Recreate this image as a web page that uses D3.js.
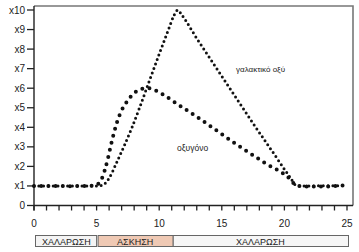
<!DOCTYPE html>
<html><head><meta charset="utf-8">
<script src="https://cdn.jsdelivr.net/npm/d3@7"></script>
<style>
html,body{margin:0;padding:0;background:#fff;}
svg{display:block;}
text{font-family:"Liberation Sans Narrow","Liberation Sans",Arial,sans-serif;}
</style></head><body>
<svg id="c" width="359" height="252"></svg>
<script>
// ---- data ----
const xTicks = [0,5,10,15,20,25];
const xMinor = d3.range(0,26,1);
const yTicks = [0,1,2,3,4,5,6,7,8,9,10];
const yTickLabels = ["0","x1","x2","x3","x4","x5","x6","x7","x8","x9","x10"];
const oxygenLabel = "οξυγόνο";
const lacticLabel = "γαλακτικό οξύ";
const oxygen = [[0,1.0],[1,1.0],[2,1.0],[3,0.99],[4,1.0],[4.7,1.02],[5.1,1.1],[5.4,1.35],[5.65,1.8],[5.9,2.4],[6.15,3.1],[6.4,3.75],[6.65,4.3],[6.95,4.8],[7.3,5.2],[7.7,5.55],[8.1,5.8],[8.6,5.96],[9.1,6.0],[9.85,5.84],[10.4,5.64],[11.4,5.21],[13.0,4.54],[16.05,3.18],[18.5,2.15],[20.6,1.25],[20.9,1.02],[21.5,0.98],[23,0.97],[24,0.99],[25,1.05]];
const lactic = [[0,1.0],[5,1.0],[5.5,1.05],[6,1.4],[6.6,2.2],[7.2,3.05],[7.8,3.95],[8.4,4.95],[9.2,6.35],[10,7.75],[10.8,9.1],[11.2,9.75],[11.5,10.0],[11.75,9.8],[13,8.55],[14.5,7.1],[16,5.65],[17.5,4.2],[19,2.8],[20.5,1.4],[20.9,1.05],[21.3,1.0],[25,1.02]];
const phaseNames = ["ΧΑΛΑΡΩΣΗ","ΑΣΚΗΣΗ","ΧΑΛΑΡΩΣΗ"];
const phaseStart = [0,5,11];
const phaseEnd = [5,11,25];
const phaseFill = ["#f4f4f4","#efc9b4","#f6f6f6"];

// ---- drawing ----
const svg = d3.select("#c");
const x = d3.scaleLinear().domain([0,25]).range([34,347]);
const y = d3.scaleLinear().domain([0,10]).range([205.5,10]);

// plot frame (top & right)
svg.append("path")
  .attr("d", `M${x(0)},6 H353 V${y(0)}`)
  .attr("fill","none").attr("stroke","#777").attr("stroke-width",1.6);

// x axis
const xAxis = svg.append("g").attr("transform",`translate(0,${y(0)})`);
xAxis.append("line").attr("x1",x(0)).attr("x2",353).attr("stroke","#222").attr("stroke-width",1.4);
xAxis.selectAll(".mt").data(xMinor).join("line")
  .attr("x1",d=>x(d)).attr("x2",d=>x(d)).attr("y1",0).attr("y2",5)
  .attr("stroke","#222").attr("stroke-width",1.3);
xAxis.selectAll(".lb").data(xTicks).join("text")
  .attr("x",d=>x(d)).attr("y",21).attr("text-anchor","middle")
  .attr("font-size",10).attr("fill","#222").text(d=>d);

// y axis
const yAxis = svg.append("g");
yAxis.append("line").attr("x1",x(0)).attr("x2",x(0)).attr("y1",6).attr("y2",y(0)+5)
  .attr("stroke","#222").attr("stroke-width",1.4);
yAxis.selectAll(".yt").data(yTicks).join("line")
  .attr("x1",x(0)-7).attr("x2",x(0)).attr("y1",d=>y(d)).attr("y2",d=>y(d))
  .attr("stroke","#222").attr("stroke-width",1.3);
yAxis.selectAll(".yl").data(yTicks).join("text")
  .attr("x",x(0)-9).attr("y",d=>y(d)).attr("dy","0.35em").attr("text-anchor","end")
  .attr("font-size",10).attr("fill","#222").text((d,i)=>yTickLabels[i]);

// series
const line = d3.line().x(d=>x(d[0])).y(d=>y(d[1])).curve(d3.curveMonotoneX);
svg.append("path").attr("d",line(lactic)).attr("fill","none")
  .attr("stroke","#111").attr("stroke-width",3).attr("stroke-linecap","round")
  .attr("stroke-dasharray","0 4.8");
svg.append("path").attr("d",line(oxygen)).attr("fill","none")
  .attr("stroke","#111").attr("stroke-width",4).attr("stroke-linecap","round")
  .attr("stroke-dasharray","0 7.2");

// labels
svg.append("text").attr("x",236).attr("y",72).attr("font-size",8)
  .attr("font-family","'DejaVu Sans',sans-serif").attr("fill","#222").text(lacticLabel);
svg.append("text").attr("x",177).attr("y",151).attr("font-size",8.5)
  .attr("font-family","'DejaVu Sans',sans-serif").attr("fill","#222").text(oxygenLabel);

// phase bar
const pb = svg.append("g");
pb.selectAll("rect").data(phaseNames).join("rect")
  .attr("x",(d,i)=>x(phaseStart[i])+1.5).attr("y",235.5)
  .attr("width",(d,i)=>x(phaseEnd[i])-x(phaseStart[i])-(i===0?1.5:0))
  .attr("height",11).attr("fill",(d,i)=>phaseFill[i])
  .attr("stroke","#666").attr("stroke-width",1);
pb.selectAll("text").data(phaseNames).join("text")
  .attr("x",(d,i)=>(x(phaseStart[i])+x(phaseEnd[i]))/2+1).attr("y",241.5).attr("dy","0.35em")
  .attr("text-anchor","middle").attr("font-size",9).attr("fill","#222").text(d=>d);
</script></body></html>
